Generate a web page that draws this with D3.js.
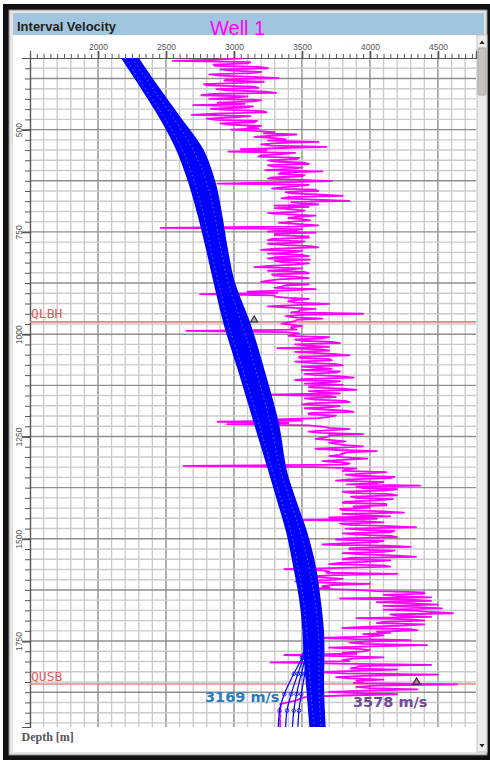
<!DOCTYPE html>
<html>
<head>
<meta charset="utf-8">
<script src="https://cdn.jsdelivr.net/npm/d3@7"></script>
<style>
  body { margin: 0; background: #fff; }
  svg { display: block; }
</style>
</head>
<body>
<svg id="chart" width="490" height="760"></svg>
<script>
// axis labels
const xMajorTicks = [2000, 2500, 3000, 3500, 4000, 4500];
const depthMajorTicks = [500, 750, 1000, 1250, 1500, 1750];

// sonic log (magenta), one sample every 3 m from 326 m
const sonicTop = 326, sonicStep = 3;
const sonicVel = [
  3060, 2880, 2550, 3120, 3100, 2850, 2860, 3180, 3250, 2900, 2980, 3200, 3120, 2820, 2900, 3150, 3330, 2950, 2930, 3220,
  3060, 2780, 2800, 3150, 3180, 2870, 2960, 3230, 3310, 2850, 2760, 3100, 3020, 2820, 3200, 3150, 2880, 3080, 2700, 3140,
  3080, 2830, 2950, 3210, 3240, 2860, 2690, 3120, 3000, 2800, 2870, 3170, 3150, 2900, 2960, 3200,
  3100, 3180, 2980, 3150, 3300, 3220, 3460, 3280, 3150, 3300, 3380, 3250, 3620, 3320, 3200, 3270, 3680, 3350, 3050, 3240,
  2960, 3450, 3350, 3200, 3180, 3480, 3460, 3250, 3300, 3520, 3550, 3250, 3280, 3500, 3420, 3230, 3650, 3350, 3330, 3520,
  3500, 3280, 3250, 3500, 3720, 3350,
  2880, 3550, 3460, 3350, 3280, 3600, 3620, 3380, 3420, 3650, 3800, 3400, 3350, 3600, 3850, 3420, 3500, 3620, 3300, 3550,
  3300, 3420, 3520, 3460, 3250, 3400, 3600, 3470, 3400, 3500, 3560, 3430, 3330, 3480, 3620, 3450,
  2460, 3500, 3450, 3250, 3600, 3300, 3300, 3550, 3550, 3280, 3250, 3520, 3480, 3250, 3380, 3560, 3620, 3300, 3200, 3500,
  3420, 3250, 3500, 3550, 3300, 3250, 3560, 3300, 3350, 3550, 3450, 3260, 3150, 3500, 3400, 3250, 3520, 3550, 3280, 3300,
  3460, 3550, 3330, 3250,
  3200, 3340, 3550, 3380, 3350, 3300, 3600, 3400, 3100, 3320, 2750, 3300,
  3300, 3400, 3550, 3430, 3400, 3460, 3700, 3450, 3250, 3400, 3600, 3480, 3480, 3420, 3950, 3500, 3380, 3440, 3650, 3460,
  3450, 3400,
  3350, 3430, 3500, 3420, 3420, 3460, 2650, 3380, 3480, 3440,
  3400, 3700, 3650, 3450, 3500, 3720, 3780, 3450, 3550, 3700, 3320, 3650, 3700, 3450, 3600, 3750, 3850, 3480, 3480, 3700,
  3720, 3450, 3560, 3750, 3800, 3500, 3620, 3720,
  3500, 3780, 3750, 3520, 3600, 3800, 3880, 3550, 3450, 3780, 3700, 3520, 3800, 3560, 3550, 3800, 3900, 3550, 3650, 3780,
  3270, 3700, 3750, 3520, 3600, 3820, 3850, 3550, 3500, 3780, 3720, 3520, 3650, 3820, 3880, 3550, 3550, 3750,
  3700, 3620, 3300, 3500, 2880, 3400, 2950, 3550, 3650, 3700, 3850, 3680, 3550, 3640, 3950, 3700, 3700, 3660, 3600, 3720,
  3820, 3700,
  3750, 3820, 3950, 3800, 3600, 3760, 4050, 3830, 3800, 3780, 3700, 3820, 3980, 3800, 3650, 3780, 3850, 3800, 2630, 3600,
  3900, 3820,
  3800, 4120, 4000, 3820, 3900, 4180, 4150, 3850, 3750, 4100, 4050, 3830, 4370, 3900, 3950, 4200, 4100, 3800, 3850, 4150,
  4200, 3860, 3900, 4170, 4050, 3820, 3800, 4120, 4120, 3880,
  4000, 3780, 3800, 4100, 4250, 3800, 3950, 4150, 3700, 4050, 3460, 3950, 4100, 3780, 3850, 4150, 4340, 3820, 3950, 4180,
  4150, 3800,
  3900, 4150, 4200, 3820, 3750, 4100, 4050, 3800, 3650, 4120, 4300, 3850, 3850, 4180, 4100, 3800, 3950, 4200, 4340, 3850,
  3800, 4150, 4000, 3780, 3700, 4100, 4150, 3800,
  3370, 3650, 3700, 3680, 4200, 3750, 3550, 3660, 3800, 3700, 3450, 3650, 4000, 3720, 3650, 3700, 3600, 3900,
  4050, 4400, 4400, 4100, 4200, 4450, 3780, 4300, 4450, 4050, 4300, 4500, 4100, 4350, 4530, 4100, 4350, 4450, 4610, 4150,
  4200, 4450, 3900, 4300, 4400, 4100, 4050, 4400, 4250, 4000, 3800, 4300, 4350, 4050, 4150, 3950,
  4100, 3980, 3600, 3900, 4300, 4000, 3850, 3950, 4420, 4020, 3700, 3920, 4000, 3960, 3800, 3900,
  3370, 3800, 4100, 3880, 3800, 3850, 3270, 3750, 4450, 3920, 3900, 3860, 4200, 3900, 3600, 3820, 4500, 3950, 3750, 3850,
  4100, 3900, 3950, 3880,
  4640, 4050, 3900, 4000, 4350, 3980, 3700, 3900,
  4200, 3800, 3550, 3500, 3480, 3460, 3420, 3380, 3340, 3345, 3345, 3340, 3335, 3340, 3340, 3338, 3338, 3340, 3342, 3340,
  3336, 3338, 3340, 3340, 3338, 3340, 3340, 3342, 3340, 3340
];

// velocity realizations (blue band), read at these depths
const bandDepth = [325, 386, 467, 549, 630, 712, 793, 866, 976, 1098, 1220, 1342, 1404, 1485, 1566, 1648, 1729, 1770, 1851, 1960];
const bandLeft  = [2176, 2296, 2450, 2580, 2670, 2740, 2800, 2850, 2930, 3044, 3154, 3265, 3320, 3390, 3440, 3485, 3510, 3515, 3534, 3560];
const bandRight = [2294, 2419, 2595, 2770, 2860, 2910, 2950, 2995, 3118, 3228, 3326, 3390, 3450, 3534, 3596, 3632, 3657, 3660, 3657, 3669];
const bandInnerA = [2200, 2320, 2480, 2620, 2710, 2780, 2830, 2880, 2960, 3075, 3185, 3290, 3345, 3420, 3470, 3510, 3535, 3545, 3560, 3590];
const bandInnerB = [2250, 2375, 2545, 2700, 2800, 2860, 2905, 2950, 3060, 3170, 3270, 3350, 3410, 3490, 3550, 3595, 3620, 3625, 3625, 3640];

// realizations that break away near the base
const outDepth = [1745, 1790, 1830, 1880, 1920, 1960];
const outlierVel = [
  [3530, 3500, 3440, 3370, 3335, 3326],
  [3535, 3510, 3470, 3420, 3390, 3380],
  [3540, 3525, 3495, 3460, 3440, 3430],
  [3545, 3535, 3520, 3495, 3478, 3470]
];

// horizons
const horizonNames = ["QLBH", "QUSB"];
const horizonDepths = [970, 1855];
const horizonMarkerVel = [3149, 4343];

const plot = { left: 30, top: 58, right: 476, bottom: 727 };

const x = d3.scaleLinear().domain([1500, 4780]).range([plot.left, plot.right]);
const y = d3.scaleLinear().domain([325, 1960]).range([plot.top, plot.bottom]);

const svg = d3.select("#chart");

// window chrome
svg.append("rect").attr("x", 3).attr("y", 4).attr("width", 487).attr("height", 756).attr("fill", "#111");
svg.append("rect").attr("x", 9).attr("y", 10).attr("width", 478).attr("height", 745)
  .attr("fill", "#e4e4e4").attr("stroke", "#8a8a8a");
svg.append("rect").attr("x", 13).attr("y", 13).attr("width", 471).attr("height", 22).attr("fill", "#a2c5df");
svg.append("rect").attr("x", 13).attr("y", 35).attr("width", 464).attr("height", 717).attr("fill", "#fff");

// scrollbar
const sb = svg.append("g");
sb.append("rect").attr("x", 477).attr("y", 35).attr("width", 10).attr("height", 717)
  .attr("fill", "#ececec").attr("stroke", "#c4c4c4");
sb.append("rect").attr("x", 478).attr("y", 48).attr("width", 8).attr("height", 47)
  .attr("fill", "#c9c3bd").attr("stroke", "#aaa").attr("rx", 1);
sb.append("path").attr("d", "M479.5,44 L482,40.5 L484.5,44 Z").attr("fill", "#222");
sb.append("path").attr("d", "M479.5,744 L482,747.5 L484.5,744 Z").attr("fill", "#222");

svg.append("text").attr("x", 17).attr("y", 30.5)
  .attr("font-family", "Liberation Sans, Arial, sans-serif").attr("font-size", 13)
  .attr("font-weight", "bold").attr("fill", "#222").text("Interval Velocity");
svg.append("text").attr("x", 210).attr("y", 34.5)
  .attr("font-family", "Liberation Sans, Arial, sans-serif").attr("font-size", 20)
  .attr("fill", "#ff00ff").text("Well 1");

// grid
const vGrid = d3.range(1600, 4780, 100);
const hGrid = d3.range(350, 1960, 25);
const grid = svg.append("g");
grid.selectAll("line.v").data(vGrid).join("line")
  .attr("x1", d => x(d)).attr("x2", d => x(d))
  .attr("y1", plot.top).attr("y2", plot.bottom)
  .attr("stroke", d => d % 500 === 0 ? "#8e8e8e" : "#cbcbcb")
  .attr("stroke-width", 1.4);
grid.selectAll("line.h").data(hGrid).join("line")
  .attr("y1", d => y(d)).attr("y2", d => y(d))
  .attr("x1", plot.left).attr("x2", plot.right)
  .attr("stroke", d => d % 125 === 0 ? "#8e8e8e" : "#cbcbcb")
  .attr("stroke-width", 1.4);

// axes
const tickFont = "Liberation Sans, Arial, sans-serif";
const fmt = d3.format("d");
const topMinor = svg.append("g").attr("transform", `translate(0,${plot.top})`)
  .call(d3.axisTop(x).tickValues(d3.range(1550, 4780, 50)).tickSize(4).tickFormat(""));
const topMajor = svg.append("g").attr("transform", `translate(0,${plot.top})`)
  .call(d3.axisTop(x).tickValues(xMajorTicks).tickSize(7).tickPadding(1).tickFormat(fmt));
const leftMinor = svg.append("g").attr("transform", `translate(${plot.left},0)`)
  .call(d3.axisLeft(y).tickValues(d3.range(350, 1960, 25)).tickSize(5).tickFormat(""));
const leftMajor = svg.append("g").attr("transform", `translate(${plot.left},0)`)
  .call(d3.axisLeft(y).tickValues(depthMajorTicks).tickSize(8).tickFormat(fmt));

[topMinor, topMajor, leftMinor, leftMajor].forEach(g => {
  g.select(".domain").attr("stroke", "#555").attr("stroke-width", 1.2);
  g.selectAll(".tick line").attr("stroke", "#555");
  g.selectAll(".tick text").attr("font-family", tickFont).attr("font-size", 8.5).attr("fill", "#555");
});
topMajor.selectAll(".tick line").attr("stroke-width", 1.8);
leftMajor.selectAll(".tick line").attr("stroke-width", 1.8);
leftMajor.selectAll(".tick text")
  .attr("x", 0).attr("dy", null).attr("text-anchor", "middle")
  .attr("transform", "translate(-8.5,0) rotate(-90)");

// plot clip
svg.append("clipPath").attr("id", "plotClip").append("rect")
  .attr("x", plot.left).attr("y", plot.top)
  .attr("width", plot.right - plot.left).attr("height", plot.bottom - plot.top);
const body = svg.append("g").attr("clip-path", "url(#plotClip)");

// horizon lines
body.selectAll("line.horizon").data(horizonDepths).join("line")
  .attr("x1", plot.left).attr("x2", plot.right)
  .attr("y1", d => y(d)).attr("y2", d => y(d))
  .attr("stroke", "#e88585").attr("stroke-width", 1.6);

// sonic log
const sonic = sonicVel.map((v, i) => ({ d: sonicTop + i * sonicStep, v }));
body.append("path").datum(sonic)
  .attr("d", d3.line().x(p => x(p.v)).y(p => y(p.d)))
  .attr("fill", "none").attr("stroke", "#ff00ff").attr("stroke-width", 1.8)
  .attr("stroke-linejoin", "round");

// velocity band
const band = bandDepth.map((d, i) => ({ d, l: bandLeft[i], r: bandRight[i], a: bandInnerA[i], b: bandInnerB[i] }));
const curve = d3.curveMonotoneY;
body.append("path").datum(band)
  .attr("d", d3.area().y(p => y(p.d)).x0(p => x(p.l)).x1(p => x(p.r)).curve(curve))
  .attr("fill", "#0000ff");
["l", "r"].forEach(k => {
  body.append("path").datum(band)
    .attr("d", d3.line().y(p => y(p.d)).x(p => x(p[k])).curve(curve))
    .attr("fill", "none").attr("stroke", "#0000ff").attr("stroke-width", 1.5);
});
["a", "b"].forEach(k => {
  body.append("path").datum(band)
    .attr("d", d3.line().y(p => y(p.d)).x(p => x(p[k])).curve(curve))
    .attr("fill", "none").attr("stroke", "#8f9cff").attr("stroke-width", 0.7)
    .attr("stroke-dasharray", "1.5,3");
});

outlierVel.forEach(vals => {
  const pts = outDepth.map((d, i) => ({ d, v: vals[i] }));
  body.append("path").datum(pts)
    .attr("d", d3.line().y(p => y(p.d)).x(p => x(p.v)).curve(curve))
    .attr("fill", "none").attr("stroke", "#0000ff").attr("stroke-width", 1.2);
  body.selectAll(null).data(pts.slice(1, 5)).join("circle")
    .attr("cx", p => x(p.v)).attr("cy", p => y(p.d)).attr("r", 1.8)
    .attr("fill", "none").attr("stroke", "#0000ff").attr("stroke-width", 0.8);
});

// horizon markers and names
horizonDepths.forEach((d, i) => {
  const cx = x(horizonMarkerVel[i]), cy = y(d);
  body.append("path")
    .attr("d", `M${cx - 3.5},${cy} L${cx},${cy - 6} L${cx + 3.5},${cy} Z`)
    .attr("fill", i === 0 ? "#b8b8b8" : "#d86ad8").attr("stroke", i === 0 ? "#333" : "#3a1040")
    .attr("stroke-width", 1.2);
  svg.append("text").attr("x", 31).attr("y", cy - 3.5)
    .attr("font-family", "DejaVu Sans Mono, monospace").attr("font-size", 13)
    .attr("fill", "#e05c5c").text(horizonNames[i]);
});

// annotations
svg.append("text").attr("x", 205).attr("y", 702)
  .attr("font-family", "DejaVu Sans, sans-serif").attr("font-weight", "bold").attr("font-size", 14.5)
  .attr("fill", "#2a7bbd").text("3169 m/s");
svg.append("text").attr("x", 353).attr("y", 706.5)
  .attr("font-family", "DejaVu Sans, sans-serif").attr("font-weight", "bold").attr("font-size", 14.5)
  .attr("fill", "#6f4a98").text("3578 m/s");

svg.append("text").attr("x", 21.5).attr("y", 741)
  .attr("font-family", "Liberation Serif, serif").attr("font-weight", "bold").attr("font-size", 12)
  .attr("fill", "#555").text("Depth [m]");
</script>
</body>
</html>
